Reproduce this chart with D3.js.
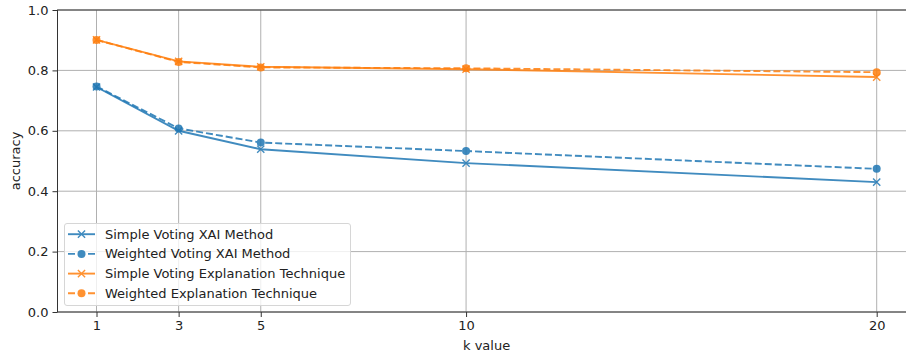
<!DOCTYPE html>
<html><head><meta charset="utf-8">
<script src="https://cdn.jsdelivr.net/npm/d3@7"></script>
<style>body{margin:0;background:#fff;} svg{display:block;font-family:"DejaVu Sans",sans-serif;}</style>
</head><body><svg id="c" width="906" height="356"></svg>
<script>
const kValues = [1, 3, 5, 10, 20];
const simpleXAI = [0.745, 0.600, 0.539, 0.493, 0.430];
const weightedXAI = [0.747, 0.608, 0.561, 0.533, 0.474];
const simpleExpl = [0.901, 0.830, 0.812, 0.804, 0.778];
const weightedExpl = [0.901, 0.828, 0.810, 0.807, 0.794];
const yTicks = [0.0, 0.2, 0.4, 0.6, 0.8, 1.0];
const seriesNames = ["Simple Voting XAI Method", "Weighted Voting XAI Method", "Simple Voting Explanation Technique", "Weighted Explanation Technique"];

const series = [
  {name: seriesNames[0], values: simpleXAI, color: "#1f77b4", dashed: false, marker: "x"},
  {name: seriesNames[1], values: weightedXAI, color: "#1f77b4", dashed: true, marker: "o"},
  {name: seriesNames[2], values: simpleExpl, color: "#ff7f0e", dashed: false, marker: "x"},
  {name: seriesNames[3], values: weightedExpl, color: "#ff7f0e", dashed: true, marker: "o"}
];

const FS = "13px";
const svg = d3.select("#c");
const L = 57.5, R = 915.7, T = 10, B = 312;
const x = d3.scaleLinear().domain([0.05, 20.95]).range([L, R]);
const y = d3.scaleLinear().domain([0, 1]).range([B, T]);

// grid
const g = svg.append("g");
g.selectAll(".gx").data(kValues).enter().append("line")
  .attr("x1", d => x(d)).attr("x2", d => x(d)).attr("y1", T).attr("y2", B)
  .attr("stroke", "#b0b0b0").attr("stroke-width", 1);
g.selectAll(".gy").data(yTicks).enter().append("line")
  .attr("x1", L).attr("x2", R).attr("y1", d => y(d)).attr("y2", d => y(d))
  .attr("stroke", "#b0b0b0").attr("stroke-width", 1);

// lines
const line = d3.line().x((d, i) => x(kValues[i])).y(d => y(d));
function marker(sel, s, cx, cy) {
  if (s.marker === "o") {
    sel.append("circle").attr("cx", cx).attr("cy", cy).attr("r", 4).attr("fill", s.color);
  } else {
    const r = 3.6;
    sel.append("path").attr("d", `M${cx-r},${cy-r}L${cx+r},${cy+r}M${cx-r},${cy+r}L${cx+r},${cy-r}`)
      .attr("stroke", s.color).attr("stroke-width", 1.4);
  }
}
series.forEach(s => {
  const sg = svg.append("g").attr("opacity", 0.85);
  sg.append("path").datum(s.values).attr("d", line)
    .attr("fill", "none").attr("stroke", s.color).attr("stroke-width", 1.9)
    .attr("stroke-dasharray", s.dashed ? "7,3" : null);
  s.values.forEach((v, i) => marker(sg, s, x(kValues[i]), y(v)));
});

// axes
const xAxis = d3.axisBottom(x).tickValues(kValues).tickSize(5).tickPadding(4).tickFormat(d3.format("d"));
const yAxis = d3.axisLeft(y).tickValues(yTicks).tickSize(5).tickPadding(4).tickFormat(d3.format(".1f"));
const xa = svg.append("g").attr("transform", `translate(0,${B})`).call(xAxis);
const ya = svg.append("g").attr("transform", `translate(${L},0)`).call(yAxis);
[xa, ya].forEach(a => {
  a.select(".domain").remove();
  a.selectAll("line").attr("stroke", "#333").attr("stroke-width", 1);
  a.selectAll("text").attr("fill", "#222").style("font-size", FS).style("font-family", "DejaVu Sans");
});
// spines
svg.append("rect").attr("x", L).attr("y", T).attr("width", R - L).attr("height", B - T)
  .attr("fill", "none").attr("stroke", "#333").attr("stroke-width", 1);

svg.append("text").attr("x", (L + R) / 2).attr("y", 350).attr("text-anchor", "middle")
  .style("font-size", FS).attr("fill", "#222").text("k value");
svg.append("text").attr("transform", `translate(20,${(T + B) / 2}) rotate(-90)`).attr("text-anchor", "middle")
  .style("font-size", FS).attr("fill", "#222").text("accuracy");

// legend
const lg = svg.append("g");
lg.append("rect").attr("x", 64.5).attr("y", 223.5).attr("width", 286).attr("height", 82).attr("rx", 2.5)
  .attr("fill", "#fff").attr("fill-opacity", 0.8).attr("stroke", "#d6d6d6").attr("stroke-width", 1);
series.forEach((s, i) => {
  const ly = 234.2 + i * 19.7;
  const eg = lg.append("g").attr("opacity", 0.85);
  eg.append("line").attr("x1", 68).attr("x2", 95).attr("y1", ly).attr("y2", ly)
    .attr("stroke", s.color).attr("stroke-width", 1.9).attr("stroke-dasharray", s.dashed ? "7,3" : null);
  marker(eg, s, 81.5, ly);
  lg.append("text").attr("x", 105).attr("y", ly).attr("dy", "0.35em").style("font-size", FS).attr("fill", "#222").text(s.name);
});
</script></body></html>
